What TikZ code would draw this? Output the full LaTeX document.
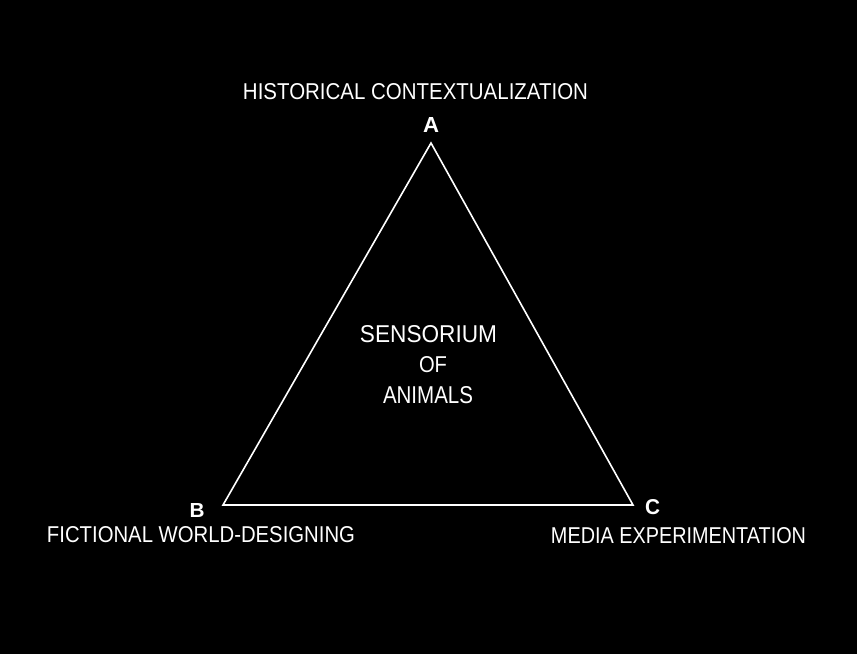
\documentclass[tikz,border=0pt]{standalone}
\usepackage{fontspec}
\usepackage{graphicx}
\setmainfont{Liberation Sans}

% fit a caption to a given width and cap height
\newcommand{\fitcap}[3]{\resizebox{#1pt}{#2pt}{#3}}

\begin{document}
\begin{tikzpicture}[x=1pt, y=-1pt,
  caption/.style={text=white, inner sep=0pt, anchor=center},
  corner/.style={text=white, inner sep=0pt, anchor=center, font=\bfseries}]

\fill[black] (0,0) rectangle (857,654);
\useasboundingbox (0,0) rectangle (857,654);

% corners of the triangle
\coordinate (A) at (431,143);
\coordinate (B) at (223,505);
\coordinate (C) at (633,505);

\draw[white, line width=1.6pt, line join=miter] (A) -- (B) -- (C) -- cycle;

\node[corner] (la) at (431,124.5) {\fitcap{16}{15}{A}};
\node[corner] (lb) at (197,510) {\fitcap{15}{14}{B}};
\node[corner] (lc) at (652.5,507.5) {\fitcap{15}{15}{C}};

\node[caption] (hist) at (415.5,91.5) {\fitcap{345}{16}{HISTORICAL CONTEXTUALIZATION}};
\node[caption] (fict) at (201,535) {\fitcap{308}{16}{FICTIONAL WORLD-DESIGNING}};
\node[caption] (media) at (678.5,535.5) {\fitcap{255}{16}{MEDIA EXPERIMENTATION}};

\node[caption] (sens) at (428.5,334.5) {\fitcap{137}{17}{SENSORIUM}};
\node[caption] (of) at (433,365) {\fitcap{28}{16}{OF}};
\node[caption] (anim) at (428,395) {\fitcap{90}{17}{ANIMALS}};

\end{tikzpicture}
\end{document}
